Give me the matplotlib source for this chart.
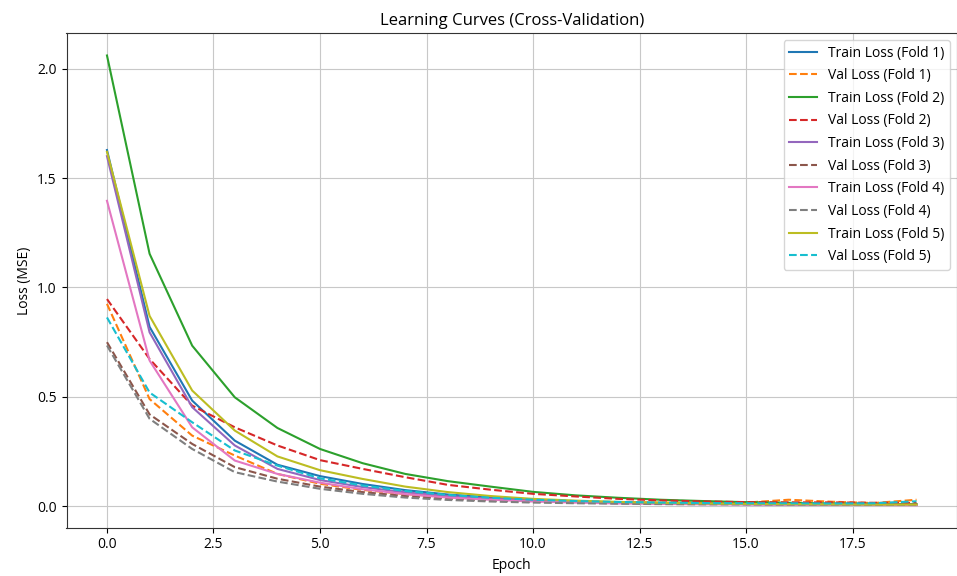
import matplotlib
matplotlib.use("Agg")
import matplotlib.pyplot as plt

plt.rcParams['font.family'] = ['Open Sans', 'DejaVu Sans']

epochs = list(range(20))

train_fold1 = [1.628, 0.82, 0.483, 0.30, 0.19, 0.138, 0.102, 0.074, 0.054, 0.040,
               0.030, 0.023, 0.018, 0.015, 0.013, 0.011, 0.010, 0.009, 0.008, 0.007]
val_fold1 = [0.925, 0.49, 0.323, 0.232, 0.148, 0.103, 0.075, 0.056, 0.042, 0.033,
             0.027, 0.022, 0.019, 0.017, 0.016, 0.017, 0.030, 0.021, 0.015, 0.030]
train_fold2 = [2.06, 1.154, 0.734, 0.498, 0.358, 0.262, 0.197, 0.148, 0.115, 0.090,
               0.066, 0.050, 0.039, 0.030, 0.024, 0.019, 0.016, 0.013, 0.011, 0.010]
val_fold2 = [0.947, 0.673, 0.46, 0.361, 0.278, 0.211, 0.171, 0.133, 0.098, 0.076,
             0.057, 0.045, 0.034, 0.027, 0.022, 0.019, 0.018, 0.018, 0.016, 0.015]
train_fold3 = [1.60, 0.795, 0.453, 0.278, 0.171, 0.12, 0.088, 0.064, 0.047, 0.035,
               0.027, 0.021, 0.017, 0.014, 0.012, 0.010, 0.009, 0.008, 0.007, 0.006]
val_fold3 = [0.75, 0.42, 0.285, 0.179, 0.126, 0.09, 0.065, 0.047, 0.035, 0.027,
             0.021, 0.017, 0.014, 0.012, 0.011, 0.010, 0.010, 0.009, 0.009, 0.008]
train_fold4 = [1.396, 0.666, 0.361, 0.209, 0.148, 0.108, 0.078, 0.056, 0.040, 0.030,
               0.022, 0.017, 0.013, 0.011, 0.009, 0.008, 0.007, 0.006, 0.006, 0.005]
val_fold4 = [0.735, 0.40, 0.262, 0.156, 0.113, 0.08, 0.057, 0.040, 0.029, 0.022,
             0.017, 0.014, 0.012, 0.010, 0.009, 0.009, 0.008, 0.008, 0.007, 0.007]
train_fold5 = [1.62, 0.87, 0.529, 0.346, 0.228, 0.165, 0.125, 0.090, 0.065, 0.047,
               0.034, 0.026, 0.020, 0.016, 0.013, 0.011, 0.010, 0.009, 0.008, 0.008]
val_fold5 = [0.863, 0.52, 0.384, 0.255, 0.186, 0.128, 0.095, 0.070, 0.052, 0.039,
             0.030, 0.024, 0.020, 0.017, 0.015, 0.014, 0.014, 0.013, 0.014, 0.023]

train_losses = [train_fold1, train_fold2, train_fold3, train_fold4, train_fold5]
val_losses = [val_fold1, val_fold2, val_fold3, val_fold4, val_fold5]

fig = plt.figure(figsize=(9.57, 5.76), dpi=100)
ax = fig.add_axes([66.5 / 957, (576 - 527.7) / 576, (957 - 66.5) / 957, (527.7 - 33) / 576])

for i, (tr, va) in enumerate(zip(train_losses, val_losses), start=1):
    ax.plot(epochs, tr, label=f"Train Loss (Fold {i})")
    ax.plot(epochs, va, linestyle="--", label=f"Val Loss (Fold {i})")

ax.set_title("Learning Curves (Cross-Validation)", fontsize=12)
ax.set_xlabel("Epoch", fontsize=10)
ax.set_ylabel("Loss (MSE)", fontsize=10)
ax.tick_params(labelsize=10)
ax.grid(True, color="#c8c8c8")
for s in ax.spines.values():
    s.set_color("#333333")
ax.legend(loc="upper right", fontsize=10, labelspacing=0.55)

fig.savefig("out.png", dpi=100)
